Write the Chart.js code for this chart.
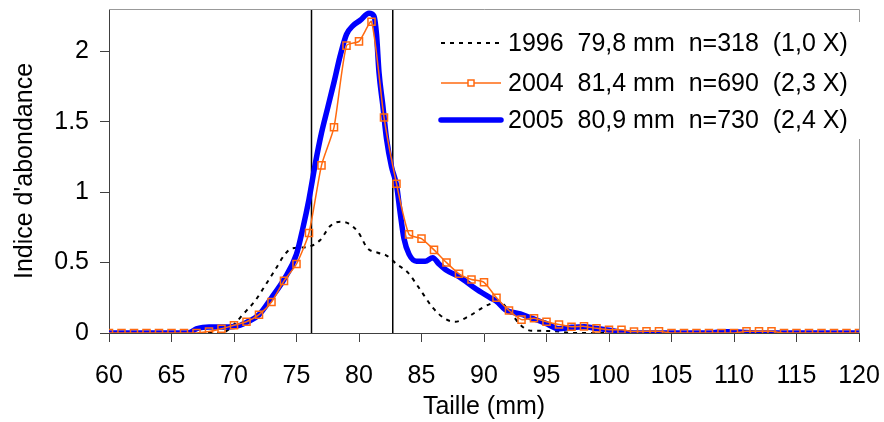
<!DOCTYPE html>
<html>
<head>
<meta charset="utf-8">
<title>Indice d'abondance par taille</title>
<script src="https://cdn.jsdelivr.net/npm/chart.js"></script>
<style>
    body { margin: 0; background: #fff; }
    #wrap { width: 884px; height: 422px; }
</style>
</head>
<body>
<div id="wrap"><canvas id="sizeChart"></canvas></div>
<script>
// 2004 : un point par mm
const sizes2004 = [60, 61, 62, 63, 64, 65, 66, 67, 68, 69, 70, 71, 72, 73, 74, 75, 76, 77, 78, 79, 80,
    81, 82, 83, 84, 85, 86, 87, 88, 89, 90, 91, 92, 93, 94, 95, 96, 97, 98, 99, 100,
    101, 102, 103, 104, 105, 106, 107, 108, 109, 110, 111, 112, 113, 114, 115, 116, 117, 118, 119, 120];
const values2004 = [0, 0, 0, 0, 0, 0, 0, 0, 0.01, 0.03, 0.055, 0.08, 0.13, 0.22, 0.37, 0.49, 0.71, 1.19, 1.46, 2.04, 2.07,
    2.21, 1.53, 1.06, 0.7, 0.67, 0.59, 0.5, 0.42, 0.38, 0.36, 0.25, 0.16, 0.095, 0.105, 0.08, 0.06, 0.045, 0.047, 0.033, 0.023,
    0.023, 0.01, 0.012, 0.012, 0, 0, 0, 0, 0, 0, 0.012, 0.012, 0.012, 0, 0, 0, 0, 0, 0, 0];

// 2005 : courbe lissée
const sizes2005 = [60, 62, 64, 66, 66.5, 67, 67.5, 68, 69, 70, 70.5, 71, 72, 73, 74, 75, 75.5, 76, 76.5, 77,
    77.5, 78, 78.5, 79, 79.5, 80.1, 80.8, 81.2, 81.4, 81.6, 81.9, 82.2, 82.6, 83, 83.3, 83.6, 84, 84.6,
    85.3, 85.9, 86.4, 87, 88, 89.4, 90.5, 91, 91.7, 92.9, 93.8, 94.9, 96, 97, 98, 99, 100, 101, 102,
    105, 108, 109, 110, 111, 112, 115, 120];
const values2005 = [0, 0, 0, 0, 0.005, 0.03, 0.04, 0.042, 0.042, 0.046, 0.055, 0.075, 0.13, 0.25, 0.38, 0.56, 0.74, 0.95, 1.2, 1.42,
    1.6, 1.78, 1.97, 2.12, 2.18, 2.22, 2.27, 2.25, 2.12, 1.85, 1.62, 1.38, 1.18, 1.05, 0.85, 0.67, 0.56, 0.51,
    0.51, 0.535, 0.49, 0.445, 0.4, 0.31, 0.25, 0.225, 0.165, 0.135, 0.106, 0.07, 0.03, 0.04, 0.045, 0.033, 0.02, 0.005, 0,
    0, 0, 0.008, 0.008, 0.004, 0, 0, 0];

// 1996 : pointillés
const sizes1996 = [60, 65, 69, 69.5, 70, 70.7, 71.7, 72.3, 73.3, 74, 74.6, 75.8, 76.9, 77.7, 78.5, 79.1, 79.9,
    80.7, 81.5, 82.2, 83, 83.9, 84.8, 85.9, 86.9, 87.7, 88.8, 89.9, 90.6, 91.2, 92.2, 93, 93.8, 95, 96, 97,
    100, 110, 120];
const values1996 = [0, 0, 0, 0.02, 0.06, 0.13, 0.23, 0.31, 0.45, 0.55, 0.6, 0.61, 0.66, 0.76, 0.79, 0.78, 0.72,
    0.6, 0.57, 0.55, 0.49, 0.43, 0.32, 0.18, 0.1, 0.08, 0.12, 0.18, 0.21, 0.22, 0.134, 0.05, 0.016, 0.015, 0.01, 0,
    0, 0, 0];

// lignes verticales
const markLines = [76.2, 82.7];

const legendLabels = [
    "1996  79,8 mm  n=318  (1,0 X)",
    "2004  81,4 mm  n=690  (2,3 X)",
    "2005  80,9 mm  n=730  (2,4 X)"
];

const xTicks = [60, 65, 70, 75, 80, 85, 90, 95, 100, 105, 110, 115, 120];
const yTicks = [0, 0.5, 1, 1.5, 2];

const fontFamily = "'Liberation Sans', Arial, sans-serif";

function toPoints(xs, ys) {
    let points = [];
    for (let i = 0; i < xs.length; i++) {
        points.push({ x: xs[i], y: ys[i] });
    }
    return points;
}

// pas de marge automatique autour des axes
function noPadding(scale) {
    scale.paddingLeft = 0;
    scale.paddingRight = 0;
    scale.paddingTop = 0;
    scale.paddingBottom = 0;
}

// cadre haut/droite + légende dans le graphique
const frameAndLegend = {
    id: "frameAndLegend",
    afterDraw(chart) {
        const { ctx, chartArea } = chart;
        ctx.save();
        ctx.strokeStyle = "#999";
        ctx.lineWidth = 1;
        ctx.beginPath();
        ctx.moveTo(chartArea.left, chartArea.top + 0.5);
        ctx.lineTo(chartArea.right + 0.5, chartArea.top + 0.5);
        ctx.lineTo(chartArea.right + 0.5, chartArea.bottom);
        ctx.stroke();

        // fond blanc de la légende
        ctx.fillStyle = "#fff";
        ctx.fillRect(432, 22, 434, 117);

        const rows = [43, 83, 120];
        const legendSets = [2, 0, 1]; // 1996, 2004, 2005
        ctx.font = "25px " + fontFamily;
        ctx.textBaseline = "middle";
        for (let i = 0; i < rows.length; i++) {
            const ds = chart.data.datasets[legendSets[i]];
            const y = rows[i];
            ctx.strokeStyle = ds.borderColor;
            ctx.lineWidth = ds.borderWidth;
            ctx.setLineDash(ds.borderDash || []);
            ctx.lineCap = ds.borderWidth > 3 ? "round" : "butt";
            ctx.beginPath();
            ctx.moveTo(441, y);
            ctx.lineTo(501, y);
            ctx.stroke();
            ctx.setLineDash([]);
            if (ds.pointRadius > 0) {
                const s = 6;
                ctx.lineWidth = ds.pointBorderWidth;
                ctx.strokeStyle = ds.pointBorderColor;
                ctx.fillStyle = "#fff";
                ctx.fillRect(471 - s / 2, y - s / 2, s, s);
                ctx.strokeRect(471 - s / 2, y - s / 2, s, s);
            }
            ctx.fillStyle = "#000";
            ctx.fillText(legendLabels[i], 508, y + 1);
        }
        ctx.restore();
    }
};

function drawChart() {
    const ctx = document.getElementById("sizeChart").getContext("2d");

    let datasets = [
        {
            label: legendLabels[1],
            data: toPoints(sizes2004, values2004),
            borderColor: "#FF6A10",
            borderWidth: 1.5,
            tension: 0.2,
            pointStyle: "rect",
            pointRadius: 5,
            pointBorderWidth: 1.5,
            pointBorderColor: "#FF6A10",
            pointBackgroundColor: "rgba(255,255,255,0)",
            order: 0
        },
        {
            label: legendLabels[2],
            data: toPoints(sizes2005, values2005),
            borderColor: "#0000FF",
            borderWidth: 5.5,
            cubicInterpolationMode: "monotone",
            pointRadius: 0,
            order: 1
        },
        {
            label: legendLabels[0],
            data: toPoints(sizes1996, values1996),
            borderColor: "#000",
            borderWidth: 2,
            borderDash: [4, 5],
            cubicInterpolationMode: "monotone",
            pointRadius: 0,
            order: 2
        }
    ];

    markLines.forEach(function (x) {
        datasets.push({
            label: "",
            data: [{ x: x, y: 0 }, { x: x, y: 2.3 }],
            borderColor: "#000",
            borderWidth: 1.5,
            pointRadius: 0,
            order: 3
        });
    });

    new Chart(ctx, {
        type: "line",
        data: { datasets: datasets },
        options: {
            responsive: true,
            maintainAspectRatio: false,
            animation: false,
            layout: { padding: { top: 9, right: 25, left: 0, bottom: 0 } },
            font: { family: fontFamily },
            plugins: {
                legend: { display: false },
                tooltip: { enabled: false }
            },
            scales: {
                x: {
                    type: "linear",
                    min: 60,
                    max: 120,
                    afterBuildTicks: function (scale) {
                        scale.ticks = xTicks.map(v => ({ value: v }));
                    },
                    afterFit: function (scale) {
                        scale.height = 89;
                        noPadding(scale);
                    },
                    grid: { drawOnChartArea: false, tickLength: 9, color: "#404040" },
                    border: { color: "#404040" },
                    ticks: {
                        autoSkip: false,
                        maxRotation: 0,
                        padding: 19,
                        color: "#000",
                        font: { family: fontFamily, size: 25 }
                    },
                    title: {
                        display: true,
                        text: "Taille (mm)",
                        color: "#000",
                        font: { family: fontFamily, size: 25 },
                        padding: { top: 0, bottom: 0 }
                    }
                },
                y: {
                    min: 0,
                    max: 2.3,
                    afterBuildTicks: function (scale) {
                        scale.ticks = yTicks.map(v => ({ value: v }));
                    },
                    afterFit: function (scale) {
                        scale.width = 109;
                        noPadding(scale);
                    },
                    grid: { drawOnChartArea: false, tickLength: 9, color: "#404040" },
                    border: { color: "#404040" },
                    ticks: {
                        padding: 11,
                        color: "#000",
                        font: { family: fontFamily, size: 25 },
                        callback: function (value) { return String(value); }
                    },
                    title: {
                        display: true,
                        text: "Indice d'abondance",
                        color: "#000",
                        font: { family: fontFamily, size: 25 },
                        padding: { top: 10, bottom: 0 }
                    }
                }
            }
        },
        plugins: [frameAndLegend]
    });
}

document.addEventListener("DOMContentLoaded", drawChart);
</script>
</body>
</html>
